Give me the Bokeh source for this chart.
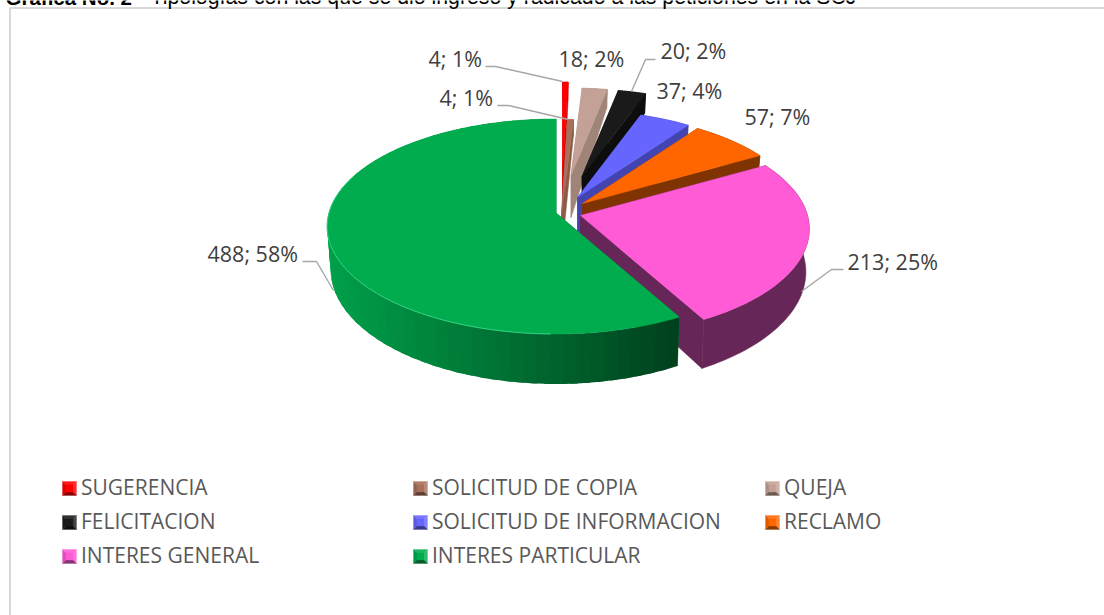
import math
from bokeh.plotting import figure
from bokeh.models import Range1d
from bokeh.embed import file_html
from bokeh.resources import INLINE
from bokeh.core.properties import value

# ---- data -------------------------------------------------------------
categories = ["SUGERENCIA", "SOLICITUD DE COPIA", "QUEJA", "FELICITACION",
              "SOLICITUD DE INFORMACION", "RECLAMO", "INTERES GENERAL", "INTERES PARTICULAR"]
counts = [4, 4, 18, 20, 37, 57, 213, 488]
percents = [1, 1, 2, 2, 4, 7, 25, 58]

# ---- style ------------------------------------------------------------
top_colors = ["#FF0000", "#A8705A", "#C4A196", "#1A1A1A", "#6666FF", "#FF6600", "#FF5BD6", "#00AC4E"]
wall_colors = ["#D00000", "#8E5A48", "#A08478", "#0D0D0D", "#4444B0", "#7F3300", "#662657", "#006B30"]
# apex of every exploded slice and its perspective shrink
apex_x = [562, 561, 570.5, 581.5, 577, 582, 580, 555.5]
apex_y = [169, 213, 175, 176, 197, 203, 215, 212.5]
shrink = [0.93, 1.0, 0.93, 0.93, 0.925, 0.96, 1.0, 1.0]
draw_order = [0, 2, 1, 3, 4, 5, 6, 7]
RX, RY, K = 227.0, 105.8, 0.1256

p = figure(width=1104, height=615, output_backend="svg", toolbar_location=None,
           x_range=Range1d(0, 1104), y_range=Range1d(615, 0), min_border=0,
           outline_line_color=None, background_fill_color="white",
           border_fill_color="white")
p.axis.visible = False
p.grid.visible = False


def depth(dy):
    return 42 + dy * 0.27 if dy < 0 else 42 + dy * 0.066


def project(theta, i):
    u, v = math.sin(theta), math.cos(theta)
    s = shrink[i] / (1 + K * v)
    return RX * u * s, -RY * v * s


def lower(dx, dy):
    return dx * 0.985, dy + depth(dy)


def mix(a, b, t):
    t = min(1.0, max(0.0, t))
    ca = [int(a[j:j + 2], 16) for j in (1, 3, 5)]
    cb = [int(b[j:j + 2], 16) for j in (1, 3, 5)]
    return "#%02x%02x%02x" % tuple(int(round(x + (y - x) * t)) for x, y in zip(ca, cb))


total = sum(counts)
edges = [0.0]
for c in counts:
    edges.append(edges[-1] + c / total * 2 * math.pi)

for i in draw_order:
    a0, a1, ax, ay = edges[i], edges[i + 1], apex_x[i], apex_y[i]
    n = max(3, int((a1 - a0) / math.radians(1.5)))
    thetas = [a0 + (a1 - a0) * k / n for k in range(n + 1)]
    rim = [project(t, i) for t in thetas]
    base = [lower(*pt) for pt in rim]
    apex_low = lower(0.0, 0.0)

    # cut faces of the slice
    for pt, bt in ((rim[0], base[0]), (rim[-1], base[-1])):
        p.patch([ax, ax + pt[0], ax + bt[0], ax + apex_low[0]],
                [ay, ay + pt[1], ay + bt[1], ay + apex_low[1]],
                fill_color=wall_colors[i], line_color=wall_colors[i], line_width=0.5)

    # outer wall: one shape, or broad overlapping strips for the shaded green slice
    if i == 7:
        step = 2
        for k in range(0, n, step):
            e = min(n, k + step + 1)
            xm = (rim[k][0] + rim[e][0]) / 2
            t = (xm + 229) / (229 + 122)
            col = mix("#00A04A", "#006B30", t / 0.55) if t < 0.55 else mix("#006B30", "#00401D", (t - 0.55) / 0.45)
            p.patch([ax + q[0] for q in rim[k:e + 1]] + [ax + q[0] for q in reversed(base[k:e + 1])],
                    [ay + q[1] for q in rim[k:e + 1]] + [ay + q[1] for q in reversed(base[k:e + 1])],
                    fill_color=col, line_color=None)
    else:
        p.patch([ax + q[0] for q in rim] + [ax + q[0] for q in reversed(base)],
                [ay + q[1] for q in rim] + [ay + q[1] for q in reversed(base)],
                fill_color=wall_colors[i], line_color=wall_colors[i], line_width=0.5)

    # top face
    p.patch([ax] + [ax + q[0] for q in rim], [ay] + [ay + q[1] for q in rim],
            fill_color=top_colors[i], line_color=top_colors[i], line_width=0.5)
    if i == 7:
        front = [q for t, q in zip(thetas, rim) if t > math.radians(180)]
        front = front[:int(len(front) * 0.62)]
        p.line([ax + q[0] for q in front], [ay + q[1] for q in front],
               line_color="#2FD07F", line_width=1)

# ---- frame ------------------------------------------------------------
p.line([9.5, 9.5, 1104], [615, 7.5, 7.5], line_color="#D9D9D9", line_width=2)

# ---- title -------------------------------------------------------------
p.text([5], [-3.5], text=["Gráfica No. 2"], text_font=value("Liberation Sans"), text_font_style="bold",
       text_font_size="20.5px", text_color="#000000", text_baseline="alphabetic")
p.text([150], [-3.5], text=["Tipologías con las que se dio ingreso y radicado a las peticiones en la SCJ"],
       text_font=value("Liberation Sans"), text_font_size="21.3px", text_color="#000000",
       text_baseline="alphabetic")

# ---- leader lines ------------------------------------------------------
leaders = [([485, 495, 562], [66, 66, 81]),
           ([497, 508, 568], [105, 105, 119]),
           ([655, 645, 631], [59, 59, 91]),
           ([843, 831, 801], [269, 269, 291]),
           ([302, 316, 333], [261, 261, 290])]
for lx, ly in leaders:
    p.line(lx, ly, line_color="#A6A6A6", line_width=1.4)

# ---- data labels -------------------------------------------------------
label_x = [428, 439, 558, 660, 656, 744, 847, 207]
label_y = [58, 97, 58, 50, 90, 116, 261, 253]
labels = ["%d; %d%%" % (c, q) for c, q in zip(counts, percents)]
p.text(label_x, label_y, text=labels, text_font=value("Open Sans"), text_font_size="21.5px",
       text_color="#404040", text_baseline="middle", text_align="left")

# ---- legend ------------------------------------------------------------
col_x = [62, 413, 765]
row_y = [488, 522, 556]
S = 7
for i, name in enumerate(categories):
    x0 = col_x[i % 3] + S
    y0 = row_y[i // 3]
    c = top_colors[i]
    lite, dark = mix(c, "#FFFFFF", 0.18), mix(c, "#000000", 0.45)
    q = 3.5
    faces = [([x0 - S, x0 + S, x0 + S - q, x0 - S + q], [y0 - S, y0 - S, y0 - S + q, y0 - S + q], mix(c, "#FFFFFF", 0.1)),
             ([x0 - S, x0 - S + q, x0 - S + q, x0 - S], [y0 - S, y0 - S + q, y0 + S - q, y0 + S], mix(c, "#000000", 0.12)),
             ([x0 + S, x0 + S, x0 + S - q, x0 + S - q], [y0 - S, y0 + S, y0 + S - q, y0 - S + q], lite),
             ([x0 - S, x0 + S, x0 + S - q, x0 - S + q], [y0 + S, y0 + S, y0 + S - q, y0 + S - q], dark),
             ([x0 - S + q, x0 + S - q, x0 + S - q, x0 - S + q], [y0 - S + q, y0 - S + q, y0 + S - q, y0 + S - q], c)]
    for fx, fy, fc in faces:
        p.patch(fx, fy, fill_color=fc, line_color=fc, line_width=0.3)
    p.text([x0 + S + 4.5], [y0 - 1.5], text=[name], text_font=value("Open Sans"), text_font_size="21px",
           text_color="#595959", text_baseline="middle", text_align="left")

open("out.html", "w").write(file_html(p, INLINE))
